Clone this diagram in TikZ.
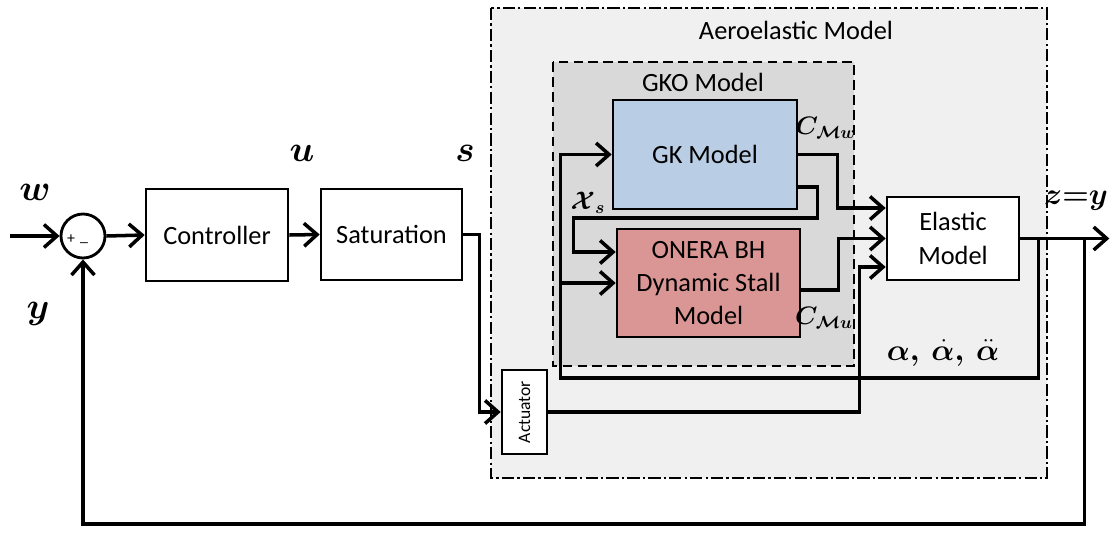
\documentclass[tikz,border=0pt]{standalone}
\usepackage{fontspec}
\setmainfont{Carlito}
\usepackage{amsmath,bm}
\usepackage{graphicx}
\usetikzlibrary{arrows.meta,positioning,calc}
\definecolor{aerocolor}{RGB}{240,240,240}
\definecolor{gkocolor}{RGB}{217,217,217}
\definecolor{gkcolor}{RGB}{185,205,229}
\definecolor{oneracolor}{RGB}{218,150,148}
\tikzset{
  block/.style    = {draw, line width=1.5pt, fill=white, align=center, inner sep=2pt,
                     font=\fontsize{15}{19}\selectfont},
  sumnode/.style  = {circle, draw, line width=1.6pt, fill=white, minimum size=0.88cm, inner sep=0pt},
  conn/.style     = {-{Straight Barb[length=2.6mm,width=4.6mm]}, line width=2pt},
  sig/.style      = {font=\Large},
  bigsig/.style   = {font=\huge},
  boxlabel/.style = {font=\fontsize{15}{19}\selectfont},
  aerobox/.style  = {fill=aerocolor, line width=1.3pt,
                     dash pattern=on 7pt off 1.8pt on 1.3pt off 1.8pt},
  gkobox/.style   = {fill=gkocolor, line width=1.3pt, dash pattern=on 5.5pt off 3pt}
}

\begin{document}
\begin{tikzpicture}[x=0.02cm,y=-0.02cm]
\useasboundingbox (0,0) rectangle (1111,558);

% -------------------- Frames --------------------
\draw[aerobox] (491,8) rectangle (1047,478);
\node[boxlabel] (aerolbl) at (796,30) {Aeroelastic Model};
\draw[gkobox] (553,62) rectangle (854,366);
\node[boxlabel] (gkolbl) at (703,82) {GKO Model};

% -------------------- Blocks --------------------
\node[sumnode] (sum) at (83,236) {};
\node[font=\small] (plus) at (71,239) {+};
\node[font=\small] (minus) at (84,243) {\_};
\node[block, minimum width=2.84cm, minimum height=1.84cm] (ctrl) at (217,235) {Controller};
\node[block, minimum width=2.82cm, minimum height=1.82cm] (sat) at (391.5,234.5) {Saturation};
\node[block, minimum width=0.9cm, minimum height=1.68cm,
      font=\fontsize{10}{12}\selectfont] (act) at (524.5,412) {\rotatebox{90}{Actuator}};
\node[block, fill=gkcolor, minimum width=3.68cm, minimum height=2.18cm] (gk) at (705,154.5) {GK Model};
\node[block, fill=oneracolor, minimum width=3.66cm, minimum height=2.16cm] (onera) at (708.5,283)
  {ONERA BH\\Dynamic Stall\\Model};
\node[block, minimum width=2.64cm, minimum height=1.66cm] (elastic) at (953,238.5) {Elastic\\Model};

% -------------------- Signal labels --------------------
\node[bigsig] (lblw) at (35,192) {$\bm{w}$};
\node[bigsig] (lbly) at (38,314) {$\bm{y}$};
\node[bigsig] (lblu) at (302,153) {$\bm{u}$};
\node[bigsig] (lbls) at (465,153) {$\bm{s}$};
\node[sig] (lblxs) at (588,203) {$\bm{\mathcal{X}_{s}}$};
\node[sig] (lblcmw) at (826,128) {$\bm{C_{\mathcal{M}w}}$};
\node[sig] (lblcmu) at (824,318) {$\bm{C_{\mathcal{M}u}}$};
\node[font=\LARGE] (lblz) at (1076,201) {$\bm{z{=}y}$};
\node[font=\LARGE] (lblalpha) at (943,353) {$\bm{\alpha,\ \dot{\alpha},\ \ddot{\alpha}}$};

% -------------------- Connections --------------------
\coordinate (win) at (10,236);
\coordinate (ein1) at ($(elastic.west)+(0,-30.5)$);
\coordinate (ein3) at ($(elastic.west)+(0,28.5)$);
\coordinate (brA) at ($(elastic.east)+(18,0)$);
\coordinate (brB) at ($(elastic.east)+(64,0)$);
\coordinate (zout) at ($(elastic.east)+(89,0)$);
\coordinate (loopx) at ($(gk.west)+(-51,0)$);

\draw[conn] (win) -- (sum.west);
\draw[conn] (sum.east) -- (ctrl.west);
\draw[conn] (ctrl.east) -- (sat.west);
\draw[conn] (sat.east) -- ++(16,0) |- (act.west);
\draw[conn] (act.east) -| ($(ein3)+(-26,0)$) -- (ein3);

% GK / ONERA outputs into the elastic model
\draw[conn] (gk.east) -- ++(39,0) |- (ein1);
\draw[conn] ($(onera.east)+(0,7)$) -- ++(37,0) |- (elastic.west);
\draw[conn] ($(gk.east)+(0,32.5)$) -- ++(19,0) |- ($(onera.west)+(-42,-65)$) |- ($(onera.west)+(0,-31)$);

% elastic model outputs
\draw[conn] (elastic.east) -- (zout);
\draw[conn] (brA) -- ++(0,139.5) -| (loopx) -- (gk.west);
\draw[conn] (loopx |- onera.west) -- (onera.west);
\draw[conn] (brB) -- ++(0,285.5) -| (sum.south);

\end{tikzpicture}
\end{document}
